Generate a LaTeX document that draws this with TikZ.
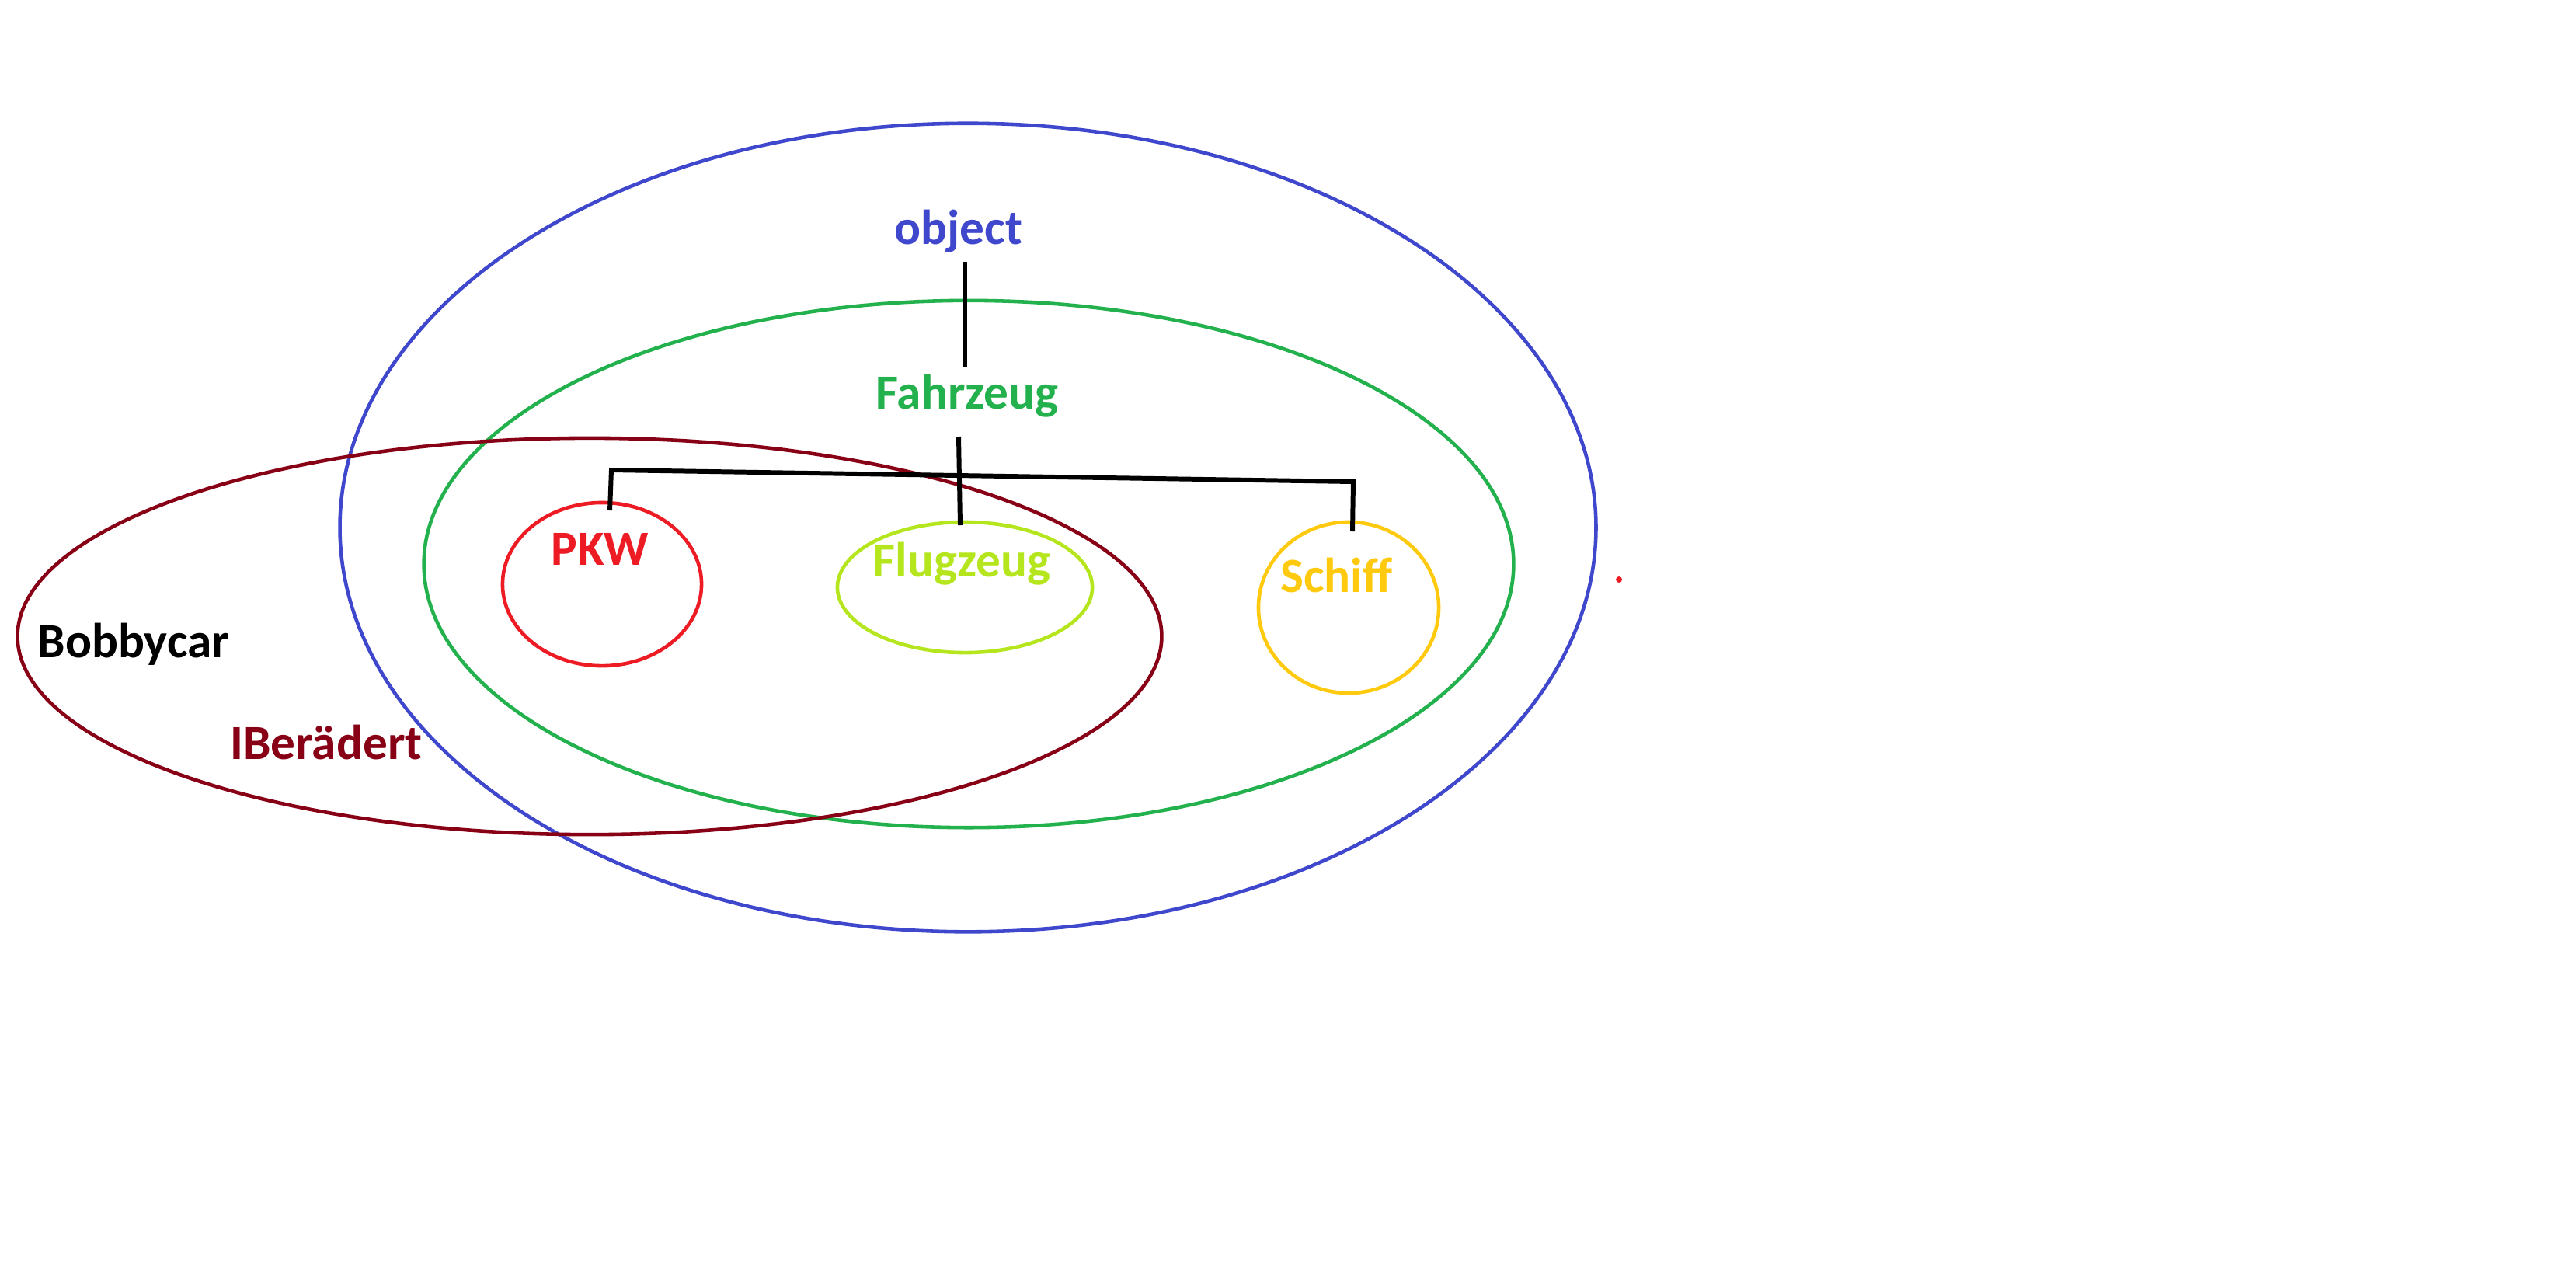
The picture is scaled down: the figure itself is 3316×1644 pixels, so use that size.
\documentclass[tikz,border=0pt]{standalone}
\usepackage{fontspec}
\setmainfont{Carlito}
\usetikzlibrary{shapes.geometric}
\definecolor{cblue}{HTML}{3F48CC}
\definecolor{cgreen}{HTML}{22B14C}
\definecolor{cdred}{HTML}{880015}
\definecolor{cred}{HTML}{ED1C24}
\definecolor{clime}{HTML}{B5E61D}
\definecolor{cgold}{HTML}{FFC90E}
\tikzset{
  set/.style={draw, ellipse, line width=1.3pt, inner sep=0pt},
  lbl/.style={font=\fontsize{18pt}{20pt}\selectfont\bfseries, anchor=base, inner sep=0pt},
  tree/.style={line width=1.7pt, black}
}
\begin{document}
\begin{tikzpicture}[x=0.01cm,y=-0.01cm]
\useasboundingbox (0,0) rectangle (3316,1644);
% sets
\node[set, cblue, minimum width=16.16cm, minimum height=10.40cm] (objset) at (1246,679) {};
\node[set, cgreen, minimum width=14.02cm, minimum height=6.78cm] (fzset) at (1247,726) {};
\node[set, cdred, minimum width=14.72cm, minimum height=5.10cm] (radset) at (759,819) {};
\node[set, cred, minimum width=2.56cm, minimum height=2.10cm] (pkwset) at (775,752) {};
\node[set, clime, minimum width=3.28cm, minimum height=1.68cm] (flset) at (1242,756) {};
\node[set, cgold, minimum width=2.32cm, minimum height=2.20cm] (shset) at (1736,782) {};
% labels
\node[lbl, cblue] (objtext) at (1234,314) {object};
\node[lbl, cgreen] (fztext) at (1245,526) {Fahrzeug};
\node[lbl, cred] (pkwtext) at (772,727) {PKW};
\node[lbl, clime] (fltext) at (1238,742) {Flugzeug};
\node[lbl, cgold] (shtext) at (1720,762) {Schiff};
\node[lbl, black, anchor=base west] (bobby) at (48,846) {Bobbycar};
\node[lbl, cdred] (raedtext) at (420,977) {IBerädert};
% tree connectors
\coordinate (o1) at (1242,337);
\coordinate (f1) at (1242,472);
\draw[tree] (o1) -- (f1);
\coordinate (f2) at (1234,562);
\coordinate (fe) at (1236,676);
\coordinate (bl) at (787,605);
\coordinate (br) at (1742,620);
\coordinate (pe) at (785,657);
\coordinate (se) at (1741,684);
\draw[tree] (f2) -- (fe);
\draw[tree] (pe) -- (bl) -- (br) -- (se);
% stray dot
\node[fill=cred, circle, inner sep=0pt, minimum size=0.08cm] (dot) at (2084,746) {};
\end{tikzpicture}
\end{document}
